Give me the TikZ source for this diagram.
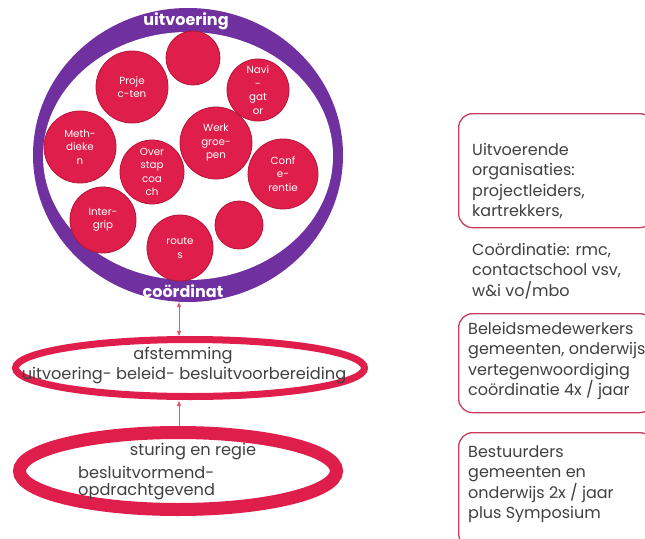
\documentclass[tikz,border=0pt]{standalone}
\usepackage{fontspec}
\setmainfont{Poppins}
\usetikzlibrary{shapes.geometric,arrows.meta}
\definecolor{crim}{RGB}{224,30,75}
\definecolor{crimdark}{RGB}{180,20,55}
\definecolor{purp}{RGB}{112,48,160}
\definecolor{boxred}{RGB}{200,60,90}
\definecolor{arrowpink}{RGB}{232,80,110}
\definecolor{txt}{RGB}{64,64,64}
\tikzset{
  bub/.style={circle, fill=crim, draw=crimdark, line width=0.8, inner sep=0pt,
    minimum size=#1, text=white, align=center,
    font=\fontsize{10.3}{13.5}\selectfont},
  ringlabel/.style={text=white, font=\bfseries\fontsize{16}{16}\selectfont, inner sep=0pt},
  elltext/.style={text=txt, font=\fontsize{16.2}{20.5}\selectfont, inner sep=0pt},
  sidebox/.style={draw=boxred, line width=1.3, rounded corners=14, anchor=north west, inner sep=0pt},
  sidetext/.style={text=txt, font=\fontsize{16}{20.5}\selectfont, align=left, anchor=north west, inner sep=0pt},
  link/.style={draw=arrowpink, line width=0.9}
}
\begin{document}
\begin{tikzpicture}[x=1pt,y=-1pt]
\useasboundingbox (0,0) rectangle (645,538);
\clip (0,0) rectangle (645,538);
\fill[white] (0,0) rectangle (645,538);

% outer ring
\node[ellipse, fill=purp, minimum width=310, minimum height=294, inner sep=0pt] (ring) at (188,155) {};
\node[ellipse, fill=white, minimum width=290, minimum height=248, inner sep=0pt] (inner) at (188,156) {};
\node[ringlabel] (uitv) at (186,21) {uitvoering};
\node[ringlabel] (coord) at (183,291) {coördinat};

% bubbles
\node[bub=54] (c1) at (193,58) {};
\node[bub=72] (proj) at (132,87) {Proje\\c-ten};
\node[bub=62] (navi) at (258,90) {Navi\\-\\gat\\or};
\node[bub=72] (meth) at (80,147) {Meth-\\dieke\\n};
\node[bub=72] (werk) at (216,143) {Werk\\groe-\\pen};
\node[bub=64] (over) at (152,172) {Over\\stap\\coa\\ch};
\node[bub=70] (conf) at (283,174) {Conf\\e-\\rentie};
\node[bub=66] (inter) at (103,220) {Inter-\\grip};
\node[bub=48] (c2) at (239,225) {};
\node[bub=66] (route) at (180,248) {route\\s};

% afstemming ellipse
\node[ellipse, draw=crim, line width=7, minimum width=349, minimum height=57, inner sep=0pt] (afst) at (190,368) {};
\node[elltext] (afst1) at (183,355) {afstemming};
\node[elltext] (afst2) at (184,376) {uitvoering- beleid- besluitvoorbereiding};

% sturing ellipse
\node[ellipse, draw=crim, line width=13, minimum width=317, minimum height=77, inner sep=0pt] (stur) at (178,471) {};
\node[elltext] (stur1) at (193,452) {sturing en regie};
\node[elltext, anchor=west] (stur2) at (78,472) {besluitvormend-};
\node[elltext, anchor=west] (stur3) at (78,492) {opdrachtgevend};

% connectors
\coordinate (r1) at (179,303);
\coordinate (a1) at (179,336);
\draw[link, {Triangle[length=5,width=4]}-{Triangle[length=5,width=4]}] (ring.south -| r1) -- (a1);
\coordinate (a2) at (179,401);
\coordinate (s2) at (179,426);
\draw[link, -{Triangle[length=5,width=4]}] (s2) -- (a2);

% side boxes
\node[sidebox, minimum width=195, minimum height=114] (b1) at (458,113) {};
\node[sidetext] (t1) at (472,143) {Uitvoerende\\organisaties:\\projectleiders,\\kartrekkers,};
\node[sidetext] (t2) at (472,243) {Coördinatie: rmc,\\contactschool vsv,\\w\&i vo/mbo};
\node[sidebox, minimum width=195, minimum height=99] (b3) at (458,313) {};
\node[sidetext] (t3) at (468,322) {Beleidsmedewerkers\\gemeenten, onderwijs\\vertegenwoordiging\\coördinatie 4x / jaar};
\node[sidebox, minimum width=195, minimum height=115] (b4) at (458,432) {};
\node[sidetext] (t4) at (468,445) {Bestuurders\\gemeenten en\\onderwijs 2x / jaar\\plus Symposium};
\end{tikzpicture}
\end{document}
